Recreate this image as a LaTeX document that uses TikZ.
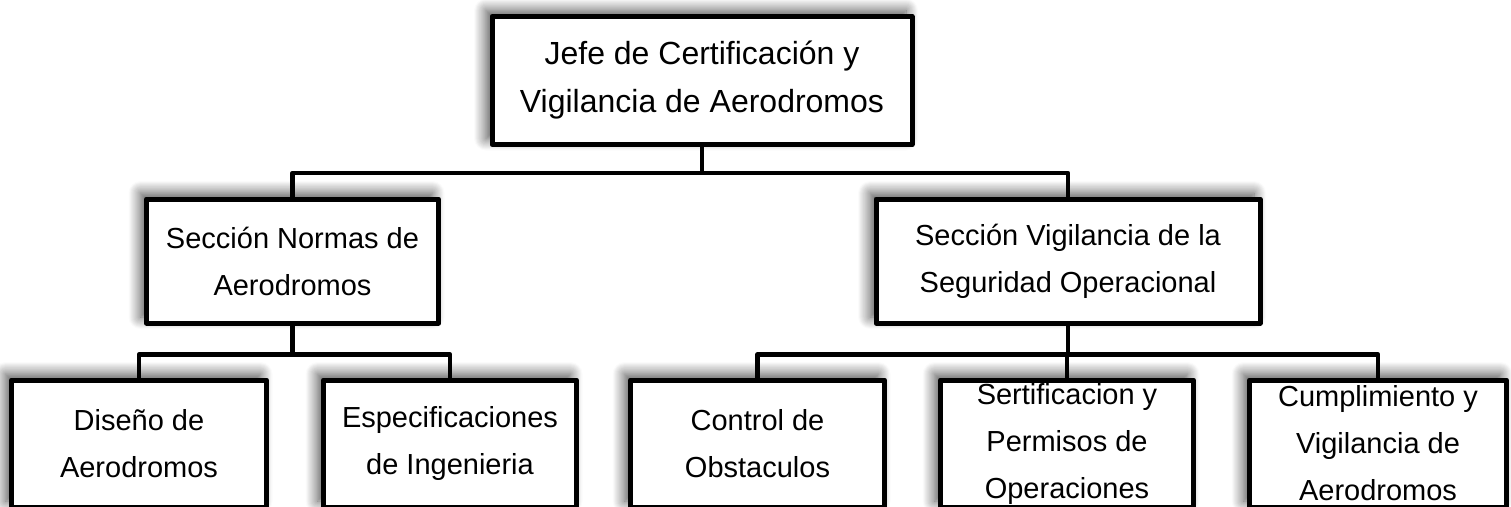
\documentclass[tikz,border=0pt]{standalone}
\usepackage{fontspec}
\setmainfont{Liberation Sans}
\usetikzlibrary{shadows.blur, calc, positioning}
\tikzset{orgbox/.style={draw, line width=5pt, line join=round, fill=white, inner sep=0pt, align=center,
    font=\fontsize{29}{47}\selectfont,
    blur shadow={shadow xshift=-6pt, shadow yshift=6pt, shadow blur radius=12pt, shadow blur steps=12, shadow opacity=70}}}
\tikzset{link/.style={line width=4.5pt, line join=round}}

\begin{document}
\begin{tikzpicture}[x=1pt, y=-1pt]
\useasboundingbox (0,0) rectangle (1511,506);

\node[orgbox, minimum width=420pt, minimum height=128pt, font=\fontsize{32}{48}\selectfont] (J) at (702,80.5)
    {Jefe de Certificación y\\Vigilancia de Aerodromos};

\node[orgbox, minimum width=292pt, minimum height=124pt] (S1) at (292.5,261) {Sección Normas de\\Aerodromos};
\node[orgbox, minimum width=384pt, minimum height=124pt] (S2) at (1068,261) {Sección Vigilancia de la\\Seguridad Operacional};

\node[orgbox, minimum width=255pt, minimum height=127pt] (U1) at (139,443.5) {Diseño de\\Aerodromos};
\node[orgbox, minimum width=253pt, minimum height=127pt] (U2) at (450,443.5) {Especificaciones\\de Ingenieria};
\node[orgbox, minimum width=254pt, minimum height=127pt] (U3) at (757.5,443.5) {Control de\\Obstaculos};
\node[orgbox, minimum width=253pt, minimum height=127pt] (U4) at (1067,443.5) {Sertificacion y\\Permisos de\\Operaciones};
\node[orgbox, minimum width=257pt, minimum height=127pt] (U5) at (1378,443.5) {Cumplimiento y\\Vigilancia de\\Aerodromos};

\draw[link] (J.south) -- ++(0,26) -| (S1.north);
\draw[link] (J.south) -- ++(0,26) -| (S2.north);

\draw[link] (S1.south) -- ++(0,29) -| (U1.north);
\draw[link] (S1.south) -- ++(0,29) -| (U2.north);

\draw[link] (S2.south) -- ++(0,29) -| (U3.north);
\draw[link] (S2.south) -- ++(0,29) -| (U4.north);
\draw[link] (S2.south) -- ++(0,29) -| (U5.north);

\end{tikzpicture}
\end{document}
